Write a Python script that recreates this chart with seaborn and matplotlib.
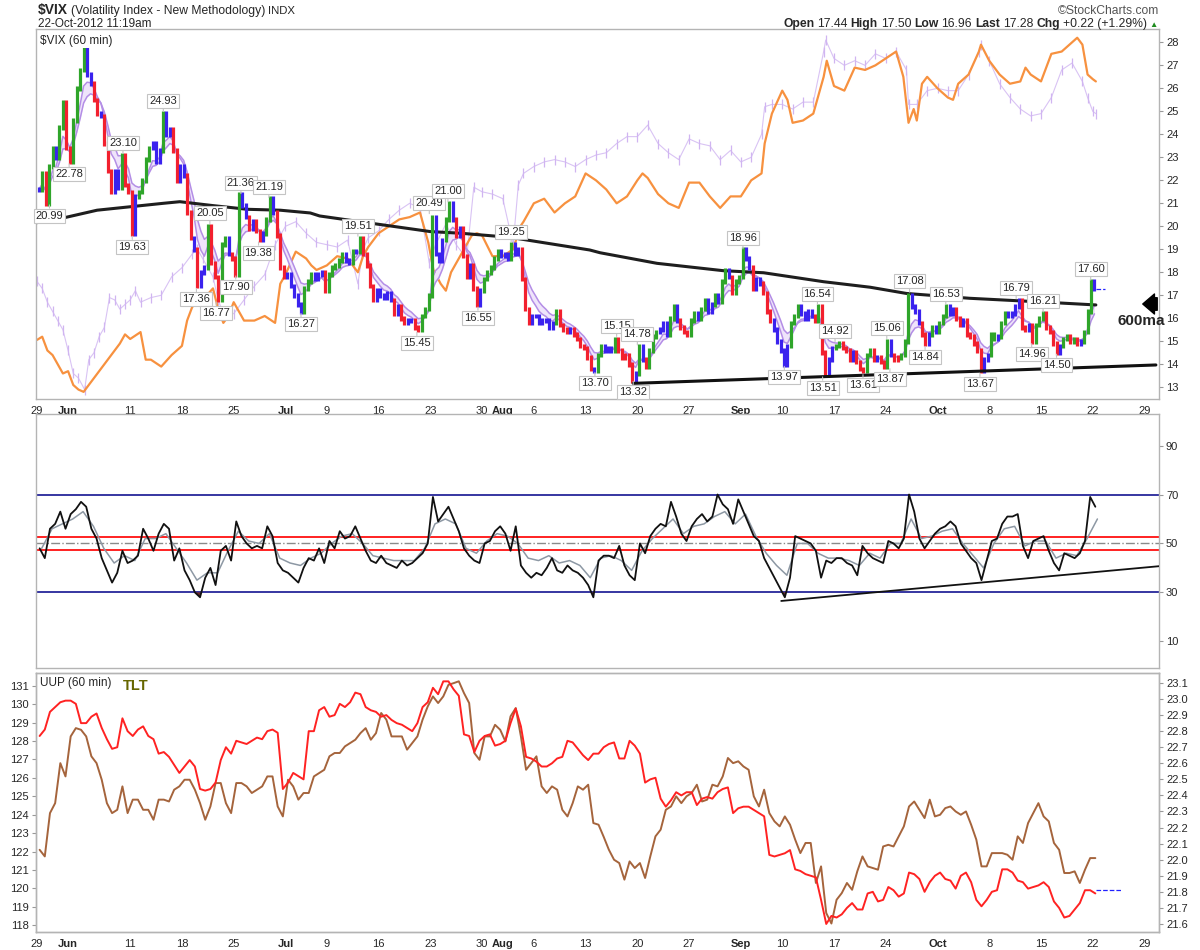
import numpy as np
import pandas as pd
import matplotlib
matplotlib.use('Agg')
import matplotlib.pyplot as plt
import seaborn as sns
from matplotlib.collections import LineCollection

sns.set_style('white')
plt.rcParams['font.family'] = ['Liberation Sans', 'DejaVu Sans']

# ---------------- data ----------------
# trading sessions: x axis is session index (no weekend gaps)
sessions = pd.bdate_range('2012-05-29', '2012-11-02')
sessions = sessions[~sessions.isin(pd.to_datetime(['2012-07-04', '2012-09-03']))]

tick_dates = ['2012-05-29', '2012-06-01', '2012-06-11', '2012-06-18', '2012-06-25',
              '2012-07-02', '2012-07-09', '2012-07-16', '2012-07-23', '2012-07-30',
              '2012-08-01', '2012-08-06', '2012-08-13', '2012-08-20', '2012-08-27',
              '2012-09-04', '2012-09-10', '2012-09-17', '2012-09-24', '2012-10-01',
              '2012-10-08', '2012-10-15', '2012-10-22', '2012-10-29']
tick_text = ['29', 'Jun', '11', '18', '25', 'Jul', '9', '16', '23', '30', 'Aug', '6',
             '13', '20', '27', 'Sep', '10', '17', '24', 'Oct', '8', '15', '22', '29']

# $VIX 60-min closes, three readings per session
vix = [21.6, 22.3, 21.0, 22.6, 23.4, 23.0, 24.3, 25.4, 23.4, 22.8, 24.6, 26.0,
       26.8, 27.7, 26.6, 26.2, 25.5, 24.9, 24.8, 23.6, 22.4, 21.5, 22.4, 21.7,
       23.1, 21.8, 21.5, 19.7, 21.3, 21.5, 22.0, 22.9, 23.4, 23.6, 22.8, 23.3,
       24.9, 24.0, 24.2, 23.3, 22.0, 22.6, 22.2, 20.6, 19.5, 19.0, 17.4, 18.0,
       18.2, 20.0, 18.4, 17.8, 16.8, 19.2, 19.5, 18.8, 18.6, 17.9, 21.4, 20.9,
       20.4, 19.9, 20.2, 19.8, 19.4, 19.7, 20.3, 21.2, 20.6, 19.6, 18.2, 17.8,
       17.9, 17.4, 17.0, 16.6, 16.3, 17.3, 17.6, 17.9, 17.7, 17.9, 18.0, 17.2,
       17.9, 18.2, 18.3, 18.5, 18.8, 18.5, 18.4, 18.9, 18.9, 19.5, 18.8, 18.3,
       17.4, 16.8, 17.2, 17.0, 16.9, 17.1, 16.8, 16.2, 16.5, 16.0, 15.8, 15.9,
       15.9, 15.6, 15.5, 16.1, 16.4, 17.0, 20.4, 18.8, 18.5, 19.4, 20.3, 21.0,
       20.3, 19.6, 19.9, 18.7, 17.8, 18.3, 17.3, 16.6, 17.2, 17.7, 18.0, 18.2,
       18.6, 18.9, 18.7, 18.8, 18.6, 19.2, 18.8, 19.0, 17.7, 16.4, 15.8, 16.1,
       16.1, 15.8, 15.9, 15.9, 15.6, 15.8, 16.3, 15.7, 15.5, 15.4, 15.5, 15.3,
       15.1, 14.8, 14.7, 14.3, 13.8, 13.7, 14.4, 14.8, 14.6, 14.7, 14.6, 15.1,
       14.6, 14.3, 14.4, 14.0, 13.3, 13.6, 14.8, 14.2, 13.9, 14.6, 15.2, 15.4,
       15.5, 15.8, 15.3, 16.0, 16.5, 15.9, 15.6, 15.4, 15.3, 15.9, 16.2, 16.0,
       16.4, 16.8, 16.3, 16.6, 17.0, 16.7, 17.6, 18.1, 17.8, 17.1, 17.6, 17.8,
       19.0, 18.6, 18.2, 17.3, 17.7, 17.5, 17.1, 16.3, 15.9, 15.5, 15.0, 14.6,
       14.0, 14.8, 15.8, 16.1, 16.5, 16.2, 16.0, 16.3, 16.1, 15.9, 16.5, 14.5,
       13.6, 14.2, 14.7, 14.8, 14.9, 14.7, 14.6, 14.2, 14.5, 14.1, 13.8, 13.7,
       14.4, 14.6, 14.2, 14.3, 14.1, 13.9, 15.0, 14.4, 14.2, 14.3, 14.4, 15.0,
       17.0, 16.5, 16.3, 15.8, 15.3, 14.9, 15.3, 15.6, 15.4, 15.8, 16.1, 16.5,
       16.2, 16.4, 16.0, 15.7, 15.9, 15.3, 15.2, 14.9, 14.6, 13.7, 14.2, 14.4,
       15.3, 15.1, 15.2, 15.8, 16.2, 16.1, 16.2, 16.5, 16.8, 15.6, 15.5, 15.7,
       15.0, 15.7, 16.0, 16.2, 15.6, 15.4, 14.9, 14.5, 14.8, 15.1, 15.2, 15.0,
       15.1, 14.9, 15.0, 15.4, 16.3, 17.6, 17.28]
vix_last = 17.28

# 600-period moving average (session, value)
ma600_t = [0, 2.5, 5.8, 9, 12.2, 13.8, 17, 20.3, 23.5, 26.4, 27.3, 32.8, 38, 40.9,
           45.7, 53.4, 54.4, 59.9, 66.3, 70.2, 76, 80.5, 84, 90.1, 96.6, 102.3]
ma600_v = [20.16, 20.36, 20.7, 20.85, 21.0, 21.07, 20.9, 20.74, 20.7, 20.58, 20.45,
           20.1, 19.77, 19.7, 19.52, 18.97, 18.85, 18.39, 18.07, 17.98, 17.59, 17.35,
           17.08, 16.87, 16.72, 16.58]

# overlay drawn in orange (session, value on VIX scale)
orange_t = [0, 0.5, 1, 1.5, 2, 2.5, 3, 3.5, 4, 4.5, 5, 5.5, 6, 7, 8, 8.5, 9, 10, 10.5,
            11, 12, 13, 14, 14.5, 15, 16, 17, 17.5, 18, 18.5, 19, 20, 21, 22, 23, 23.5,
            24, 25, 26, 26.5, 27, 28, 29, 30, 31, 31.5, 32, 33, 34, 35, 36, 37, 37.8,
            38.3, 39, 39.5, 40, 41, 42, 42.5, 43, 44, 45, 46, 46.7, 47, 48, 49, 50, 51,
            52, 53, 54, 55, 56, 57, 58, 58.5, 59, 60, 61, 62, 63, 64, 65, 66, 67, 68,
            69, 70, 70.3, 71, 72, 72.5, 73, 74, 75, 76, 76.3, 77, 78, 79, 80, 81, 82,
            83, 83.7, 84, 84.2, 84.7, 85, 85.5, 86, 87, 88, 88.5, 89, 90, 91, 91.2, 92,
            93, 94, 95, 95.5, 96, 97, 98, 99, 100, 100.5, 101, 101.5, 102, 102.3]
orange_v = [15.06, 15.2, 14.6, 14.4, 14.0, 13.6, 13.7, 13.1, 12.9, 12.8, 13.1, 13.4,
            13.7, 14.3, 14.9, 15.3, 15.1, 15.4, 14.2, 14.2, 13.9, 14.4, 14.8, 15.9,
            16.5, 16.8, 17.3, 16.4, 15.8, 16.1, 16.7, 15.9, 15.9, 16.1, 15.8, 17.5,
            17.9, 18.9, 18.6, 18.3, 18.1, 18.3, 18.7, 18.6, 18.0, 18.7, 19.1, 19.7,
            20.0, 20.3, 20.4, 20.6, 19.3, 18.1, 17.5, 17.2, 18.0, 18.8, 19.6, 19.7,
            19.6, 18.7, 18.7, 19.0, 20.0, 20.2, 21.0, 21.2, 20.6, 21.0, 21.3, 22.3,
            22.0, 21.6, 21.0, 21.3, 22.0, 22.3, 22.1, 21.4, 21.0, 20.8, 21.9, 21.9,
            21.3, 20.8, 21.3, 21.3, 22.0, 22.3, 23.6, 24.9, 25.9, 25.5, 24.5, 24.6,
            24.9, 26.5, 27.2, 26.1, 25.9, 26.9, 26.8, 27.0, 27.3, 27.6, 26.5, 25.3,
            24.5, 25.1, 24.6, 26.2, 26.5, 26.0, 25.6, 25.5, 26.2, 26.6, 27.6, 27.9,
            27.2, 26.6, 26.2, 26.3, 26.9, 26.6, 26.3, 27.5, 27.6, 28.0, 28.2, 27.9,
            26.6, 26.4, 26.3]

# overlay drawn as thin lavender bars (session, value on VIX scale)
lav_t = [0, 0.5, 1, 1.5, 2, 2.5, 3, 3.5, 4, 4.6, 5, 5.5, 6, 6.5, 7, 7.5, 8, 8.5, 9,
         9.5, 10, 11, 12, 13, 14, 15, 15.5, 16, 17, 17.5, 18, 19, 20, 21, 22, 23, 24,
         25, 26, 27, 28, 29, 30, 31, 31.5, 32, 33, 34, 35, 36, 37, 37.9, 38.5, 39.5,
         40.5, 41.5, 42.2, 43, 44, 45, 46, 46.5, 47, 48, 49, 50, 51, 52, 53, 54, 55,
         56, 57, 58, 59, 60, 61, 62, 63, 64, 65, 66, 67, 68, 69, 70, 70.3, 71, 72, 73,
         74, 75, 76, 76.2, 77, 78, 79, 80, 81, 82, 83, 84, 84.2, 85, 86, 87, 88, 89,
         90, 91, 91.2, 92, 93, 94, 95, 96, 97, 98, 99, 100, 101, 101.5, 102, 102.3]
lav_v = [17.6, 17.3, 16.7, 16.3, 15.9, 15.5, 14.6, 13.6, 13.4, 12.9, 14.2, 14.5, 15.2,
         15.6, 16.9, 16.8, 16.4, 16.6, 16.8, 17.2, 16.7, 16.9, 17.0, 17.8, 18.2, 18.8,
         19.0, 18.6, 17.8, 16.8, 16.2, 16.2, 16.8, 17.4, 17.9, 19.2, 20.0, 20.2, 19.7,
         19.3, 19.2, 19.1, 19.4, 17.5, 19.0, 19.5, 19.8, 20.3, 20.7, 21.0, 20.8, 18.4,
         19.2, 20.1, 19.2, 18.6, 21.7, 21.5, 21.4, 21.2, 19.2, 21.8, 22.3, 22.6, 22.8,
         22.9, 22.8, 22.6, 22.9, 23.1, 23.2, 23.6, 23.9, 23.9, 24.4, 23.6, 23.2, 22.9,
         23.8, 23.6, 23.5, 22.9, 23.3, 22.8, 23.0, 24.0, 25.2, 25.3, 25.3, 25.1, 25.4,
         25.4, 27.6, 28.1, 27.3, 27.0, 27.2, 27.0, 27.5, 27.3, 27.6, 26.8, 25.3, 25.3,
         25.9, 26.0, 25.9, 25.9, 26.6, 27.6, 27.9, 27.2, 26.2, 25.6, 25.1, 24.8, 24.9,
         25.6, 26.8, 27.1, 26.3, 25.6, 25.0, 24.9]

# annotated highs / lows
lab_t = [1.2, 3.1, 8.3, 9.2, 12.2, 15.4, 16.7, 17.3, 19.2, 19.7, 21.4, 22.4, 25.5,
         31.0, 36.7, 37.9, 39.7, 42.6, 45.8, 53.9, 56.0, 57.6, 58.0, 68.2, 72.2, 75.4,
         75.9, 77.1, 79.8, 82.1, 82.4, 84.3, 85.8, 87.8, 91.1, 94.6, 96.1, 97.2, 98.5,
         101.8]
lab_v = [20.99, 22.78, 23.10, 19.63, 24.93, 17.36, 20.05, 16.77, 17.90, 21.36, 19.38,
         21.19, 16.27, 19.51, 15.45, 20.49, 21.00, 16.55, 19.25, 13.70, 15.15, 13.32,
         14.78, 18.96, 13.97, 16.54, 13.51, 14.92, 13.61, 15.06, 13.87, 17.08, 14.84,
         16.53, 13.67, 16.79, 14.96, 16.21, 14.50, 17.60]
lab_high = [0, 0, 1, 0, 1, 0, 1, 0, 0, 1, 0, 1, 0, 1, 0, 1, 1, 0, 1, 0, 1, 0, 1, 1, 0,
            1, 0, 1, 0, 1, 0, 1, 0, 1, 0, 1, 0, 1, 0, 1]

trend_t = [57.6, 108.1]
trend_v = [13.17, 13.97]

# RSI, two readings per session (black) and one per session (grey)
rsi = [48, 44, 56, 58, 63, 56, 62, 64, 67, 65, 56, 52, 44, 39, 34, 38, 47, 42, 43, 45,
       56, 52, 47, 54, 58, 56, 43, 48, 39, 35, 30, 28, 36, 40, 33, 47, 49, 43, 59, 53,
       50, 48, 49, 48, 57, 53, 42, 39, 38, 36, 34, 40, 44, 43, 48, 42, 51, 48, 55, 52,
       53, 57, 52, 47, 43, 42, 45, 42, 41, 40, 43, 41, 42, 44, 46, 50, 69, 59, 62, 65,
       60, 55, 48, 45, 43, 42, 50, 51, 55, 57, 54, 47, 57, 41, 38, 36, 38, 37, 40, 44,
       39, 38, 41, 39, 38, 36, 33, 28, 43, 45, 45, 44, 49, 41, 37, 35, 50, 46, 53, 56,
       58, 57, 67, 61, 54, 51, 57, 60, 62, 59, 61, 70, 66, 64, 58, 68, 63, 58, 53, 51,
       44, 40, 36, 32, 28, 36, 53, 52, 51, 50, 47, 36, 43, 42, 44, 44, 42, 41, 37, 49,
       46, 44, 43, 42, 51, 50, 48, 52, 70, 63, 52, 48, 51, 54, 56, 57, 59, 57, 50, 47,
       44, 42, 35, 43, 51, 52, 58, 61, 61, 62, 49, 44, 51, 52, 53, 47, 42, 39, 46, 45,
       44, 46, 51, 69, 65]
rsi_grey = [48, 56, 58, 60, 63, 57, 48, 42, 45, 43, 52, 52, 54, 48, 42, 35, 38, 38, 47, 55,
            51, 50, 54, 44, 42, 41, 44, 46, 50, 53, 54, 50, 45, 44, 43, 43, 43, 48, 58, 60,
            58, 48, 46, 51, 54, 53, 50, 44, 43, 45, 42, 43, 41, 36, 44, 45, 43, 39, 47, 52,
            56, 60, 54, 57, 58, 61, 63, 58, 62, 53, 46, 41, 37, 50, 50, 46, 44, 44, 43, 41,
            46, 44, 50, 50, 60, 52, 53, 55, 56, 50, 45, 40, 50, 56, 57, 49, 51, 51, 44, 46,
            45, 52, 60]
rsi_trend_t = [71.9, 108.4]
rsi_trend_v = [26.5, 40.7]

# UUP (right scale) and TLT (left scale), two readings per session
uup = [22.77, 22.81, 22.92, 22.95, 22.98, 22.99, 22.99, 22.97, 22.85, 22.85,
       22.89, 22.91, 22.82, 22.75, 22.69, 22.70, 22.88, 22.80, 22.77, 22.81,
       22.83, 22.77, 22.75, 22.66, 22.67, 22.64, 22.59, 22.54, 22.58, 22.62,
       22.58, 22.44, 22.43, 22.44, 22.48, 22.62, 22.70, 22.66, 22.74, 22.73,
       22.72, 22.74, 22.76, 22.75, 22.80, 22.81, 22.79, 22.44, 22.48, 22.54,
       22.52, 22.50, 22.80, 22.80, 22.93, 22.95, 22.89, 22.90, 22.97, 22.95,
       22.98, 23.04, 23.03, 22.95, 22.93, 22.92, 22.89, 22.90, 22.87, 22.85,
       22.84, 22.82, 22.80, 22.85, 22.95, 22.98, 23.07, 23.03, 23.11, 23.11,
       23.06, 23.02, 22.78, 22.77, 22.67, 22.74, 22.77, 22.78, 22.71, 22.72,
       22.74, 22.85, 22.94, 22.83, 22.64, 22.63, 22.61, 22.58, 22.58, 22.60,
       22.63, 22.64, 22.74, 22.73, 22.69, 22.65, 22.62, 22.66, 22.66, 22.70,
       22.72, 22.73, 22.63, 22.63, 22.74, 22.71, 22.66, 22.48, 22.50, 22.51,
       22.38, 22.33, 22.37, 22.42, 22.40, 22.42, 22.42, 22.34, 22.38, 22.39,
       22.38, 22.42, 22.44, 22.45, 22.29, 22.32, 22.33, 22.33, 22.31, 22.29,
       22.27, 22.03, 22.02, 22.03, 22.04, 22.06, 21.94, 21.93, 21.91, 21.90,
       21.89, 21.75, 21.60, 21.65, 21.64, 21.66, 21.70, 21.73, 21.69, 21.69,
       21.79, 21.80, 21.74, 21.75, 21.83, 21.81, 21.77, 21.79, 21.92, 21.91,
       21.88, 21.80, 21.86, 21.90, 21.92, 21.88, 21.87, 21.82, 21.90, 21.92,
       21.86, 21.75, 21.71, 21.75, 21.80, 21.81, 21.94, 21.94, 21.92, 21.87,
       21.86, 21.82, 21.83, 21.84, 21.86, 21.83, 21.74, 21.70, 21.64, 21.65,
       21.69, 21.73, 21.81, 21.81, 21.79]
uup_last = 21.81
tlt = [122.10, 121.74, 124.09, 124.63, 126.80, 126.08, 128.25, 128.70, 128.61, 128.25,
       127.17, 126.80, 125.90, 124.63, 124.09, 124.27, 125.54, 124.09, 124.82, 124.82,
       124.27, 124.27, 123.73, 124.82, 124.82, 124.72, 125.36, 125.54, 125.90, 125.90,
       125.36, 124.63, 123.73, 124.45, 125.72, 125.72, 124.63, 124.09, 125.72, 125.72,
       125.54, 125.18, 125.36, 125.54, 126.08, 126.08, 124.45, 123.91, 125.90, 125.54,
       124.82, 125.18, 125.18, 126.08, 126.26, 126.44, 127.17, 127.35, 127.35, 127.71,
       127.89, 128.07, 128.43, 128.70, 128.07, 128.43, 129.52, 129.16, 128.25, 128.25,
       128.25, 127.53, 127.89, 128.25, 129.16, 129.88, 130.42, 130.06, 130.42, 131.05,
       131.14, 131.24, 130.60, 130.06, 127.35, 126.98, 128.25, 128.25, 128.88, 128.61,
       127.98, 129.34, 129.79, 128.25, 126.44, 126.80, 127.17, 125.54, 125.18, 125.54,
       125.36, 124.27, 123.91, 124.63, 125.54, 125.36, 125.63, 123.55, 123.46, 122.80,
       122.10, 121.56, 121.38, 120.48, 121.47, 121.11, 121.38, 120.57, 121.74, 122.83,
       123.19, 124.27, 124.45, 125.00, 124.63, 125.00, 125.18, 125.63, 124.72, 124.82,
       125.63, 125.54, 126.08, 127.08, 126.80, 126.90, 126.62, 126.44, 125.00, 124.45,
       125.36, 124.09, 123.64, 123.37, 123.91, 123.46, 122.65, 121.92, 122.47, 122.47,
       120.30, 121.20, 118.67, 118.10, 119.39, 119.75, 120.30, 119.93, 120.93, 121.74,
       121.20, 121.11, 121.02, 122.28, 122.37, 122.28, 122.83, 123.37, 124.45, 124.72,
       124.27, 123.82, 124.82, 123.91, 124.00, 124.36, 124.45, 124.18, 124.00, 124.18,
       123.46, 122.65, 121.20, 121.20, 121.92, 121.92, 121.92, 121.83, 121.56, 122.83,
       122.47, 123.55, 124.09, 124.63, 123.91, 123.64, 122.47, 122.10, 120.84, 120.84,
       120.93, 120.30, 121.02, 121.65, 121.65]

# ---------------- derived ----------------
t_vix = np.arange(len(vix)) / 3 + 1 / 6
t_half = np.arange(len(rsi)) / 2 + 0.25
t_uup = np.arange(len(uup)) / 2 + 0.25
t_tlt = np.arange(len(tlt)) / 2 + 0.25
t_grey = np.arange(len(rsi_grey)) + 0.45

s = pd.Series(vix)
ema13 = s.ewm(span=6, adjust=False).mean()
macd = s.ewm(span=5, adjust=False).mean() - s.ewm(span=11, adjust=False).mean()
hist = macd - macd.ewm(span=4, adjust=False).mean()
up = (ema13.diff() > 0) & (hist.diff() > 0)
dn = (ema13.diff() < 0) & (hist.diff() < 0)
bar_col = np.where(up, '#2fa52a', np.where(dn, '#f2202e', '#3a22ee'))
band_a = s.ewm(span=5, adjust=False).mean()
band_b = s.ewm(span=8, adjust=False).mean()

tick_pos = sessions.get_indexer(pd.to_datetime(tick_dates))
months = {'Jun', 'Jul', 'Aug', 'Sep', 'Oct'}

# ---------------- figure ----------------
W, H = 1200, 950
fig = plt.figure(figsize=(12, 9.5), dpi=100)


def box(l, t, r, b):
    return [l / W, 1 - b / H, (r - l) / W, (b - t) / H]


ax1 = fig.add_axes(box(36, 29, 1159, 399))
ax2 = fig.add_axes(box(36, 414, 1159, 668))
ax3 = fig.add_axes(box(36, 673, 1159, 932))
ax3r = ax3.twinx()

for a in (ax1, ax2, ax3, ax3r):
    for sp in a.spines.values():
        sp.set_color('#b4b4b4')
        sp.set_linewidth(1)
    a.set_xlim(-0.1, 108.4)
    a.tick_params(labelsize=8, length=3, width=0.8, color='#999999', pad=2)

# --- top panel ---
sns.lineplot(x=lav_t, y=lav_v, ax=ax1, color='#d9c3f4', lw=0.8, marker='|',
             markersize=7, markeredgewidth=0.9, markeredgecolor='#d0b5f1',
             estimator=None, sort=False, zorder=1)
sns.lineplot(x=orange_t, y=orange_v, ax=ax1, color='#f7913f', lw=1.6,
             estimator=None, sort=False, zorder=2)
ax1.fill_between(t_vix, band_a, band_b, color='#efe4fb', lw=0, zorder=3)
sns.lineplot(x=t_vix, y=band_a, ax=ax1, color='#b48ee6', lw=1.1, estimator=None, zorder=3)
sns.lineplot(x=t_vix, y=band_b, ax=ax1, color='#b48ee6', lw=1.1, estimator=None, zorder=3)
sns.lineplot(x=ma600_t, y=ma600_v, ax=ax1, color='#1e1e1e', lw=2.2,
             estimator=None, sort=False, zorder=4)

prev = np.r_[vix[0], vix[:-1]]
lo = np.minimum(prev, vix) - 0.1
hi = np.maximum(prev, vix) + 0.1
segs = [[(x, a), (x, b)] for x, a, b in zip(t_vix, lo, hi)]
ax1.add_collection(LineCollection(segs, colors=bar_col, linewidths=2.3, zorder=5))
ax1.plot([t_vix[-1] + 0.1, t_vix[-1] + 1.0], [vix_last, vix_last], ls='--',
         color='#2020ff', lw=0.9, zorder=5)
sns.lineplot(x=trend_t, y=trend_v, ax=ax1, color='#111111', lw=2.2, estimator=None, zorder=6)

for t, v, h in zip(lab_t, lab_v, lab_high):
    ax1.annotate(f'{v:.2f}', xy=(t, v), xytext=(0, 12 if h else -12),
                 textcoords='offset pixels', ha='center', va='center', fontsize=8,
                 bbox=dict(boxstyle='square,pad=0.18', fc='white', ec='#c4c4c4', lw=0.8),
                 arrowprops=dict(arrowstyle='-', color='#c4c4c4', lw=0.8,
                                 shrinkA=0, shrinkB=1), zorder=8)

ax1.set_ylim(12.49, 28.58)
ax1.yaxis.tick_right()
ax1.set_yticks(range(13, 29))
ax1.set_xticks(tick_pos)
ax1.set_xticklabels(tick_text)
ax1.text(0.004, 0.985, '$VIX (60 min)', transform=ax1.transAxes, fontsize=8.5,
         va='top', ha='left', zorder=9,
         bbox=dict(boxstyle='square,pad=0.1', fc='white', ec='none'))

# --- RSI panel ---
for lvl, c, ls, lw in [(70, '#000088', '-', 1.1), (30, '#000088', '-', 1.1),
                       (52.7, '#ff1010', '-', 1.3), (47.3, '#ff1010', '-', 1.3),
                       (50, '#8a8a8a', '-.', 1.0)]:
    ax2.axhline(lvl, color=c, ls=ls, lw=lw, zorder=1)
rsi_arr = np.array(rsi, dtype=float)
ax2.fill_between(t_half, rsi_arr, 30, where=rsi_arr < 30, interpolate=True,
                 color='#6e2a2a', lw=0, zorder=2)
sns.lineplot(x=t_grey, y=rsi_grey, ax=ax2, color='#8d98a4', lw=1.1, estimator=None, zorder=2)
sns.lineplot(x=t_half, y=rsi, ax=ax2, color='#111111', lw=1.3, estimator=None, zorder=3)
sns.lineplot(x=rsi_trend_t, y=rsi_trend_v, ax=ax2, color='#111111', lw=1.3,
             estimator=None, zorder=3)
ax2.set_ylim(-0.9, 102.9)
ax2.yaxis.tick_right()
ax2.set_yticks([10, 30, 50, 70, 90])
ax2.set_xticks(tick_pos)
ax2.tick_params(axis='x', labelbottom=False, length=0)

# --- UUP / TLT panel ---
sns.lineplot(x=t_tlt, y=tlt, ax=ax3, color='#a5643c', lw=1.4, estimator=None)
sns.lineplot(x=t_uup, y=uup, ax=ax3r, color='#ff2222', lw=1.4, estimator=None)
ax3r.plot([t_uup[-1] + 0.1, t_uup[-1] + 2.5], [uup_last, uup_last], ls='--',
          color='#2020ff', lw=0.9)
ax3.set_ylim(117.64, 131.69)
ax3.set_yticks(range(118, 132))
ax3r.set_ylim(21.55, 23.162)
ax3r.set_yticks(np.round(np.arange(21.6, 23.15, 0.1), 1))
ax3r.set_yticklabels([f'{v:.1f}' for v in np.arange(21.6, 23.15, 0.1)])
ax3.set_xticks(tick_pos)
ax3.set_xticklabels(tick_text)
ax3r.set_xlim(-0.1, 108.4)
for a in (ax1, ax2, ax3, ax3r):
    a.set_xlabel('')
    a.set_ylabel('')
ax3.text(0.004, 0.985, 'UUP (60 min)', transform=ax3.transAxes, fontsize=8.5,
         va='top', ha='left')
ax3.text(0.077, 0.975, 'TLT', transform=ax3.transAxes, fontsize=10.5,
         fontweight='bold', color='#666600', va='top', ha='left')

for a in (ax1, ax3):
    for lbl in a.get_xticklabels():
        if lbl.get_text() in months:
            lbl.set_fontweight('bold')

# --- header text ---
rend = fig.canvas.get_renderer()


def put_row(parts, x, y, right=None):
    texts = []
    for txt, kw in parts:
        t = fig.text(x / W, 1 - y / H, txt, va='baseline', ha='left', **kw)
        texts.append(t)
        x = t.get_window_extent(rend).x1 + 3
    if right is not None:
        shift = (right - (x - 3)) / W
        for t in texts:
            px, py = t.get_position()
            t.set_position((px + shift, py))


put_row([('$VIX', dict(fontsize=10, fontweight='bold')),
         ('(Volatility Index - New Methodology)', dict(fontsize=8.7)),
         ('INDX', dict(fontsize=8.2))], 38, 14)
put_row([('22-Oct-2012 11:19am', dict(fontsize=8.5))], 38, 27)
put_row([('Open', dict(fontsize=8.7, fontweight='bold')), ('17.44', dict(fontsize=8.7)),
         ('High', dict(fontsize=8.7, fontweight='bold')), ('17.50', dict(fontsize=8.7)),
         ('Low', dict(fontsize=8.7, fontweight='bold')), ('16.96', dict(fontsize=8.7)),
         ('Last', dict(fontsize=8.7, fontweight='bold')), ('17.28', dict(fontsize=8.7)),
         ('Chg', dict(fontsize=8.7, fontweight='bold')), ('+0.22 (+1.29%)', dict(fontsize=8.7)),
         ('\u25b2', dict(fontsize=6, color='#1e8c1e'))], 807, 27, right=1158)
fig.text(1159 / W, 1 - 14 / H, '\u00a9StockCharts.com', ha='right', va='baseline',
         fontsize=8.7, color='#555555')

fig.text(1141 / W, 1 - 321 / H, '600ma', ha='center', va='center', fontsize=11,
         fontweight='bold')
ax1.annotate('', xy=(1140, H - 304), xycoords='figure pixels',
             xytext=(1160, H - 304), textcoords='figure pixels',
             arrowprops=dict(arrowstyle='simple,head_width=1.2,head_length=0.7,tail_width=0.75',
                             color='black', mutation_scale=12),
             annotation_clip=False)

fig.savefig('out.png', dpi=100)
